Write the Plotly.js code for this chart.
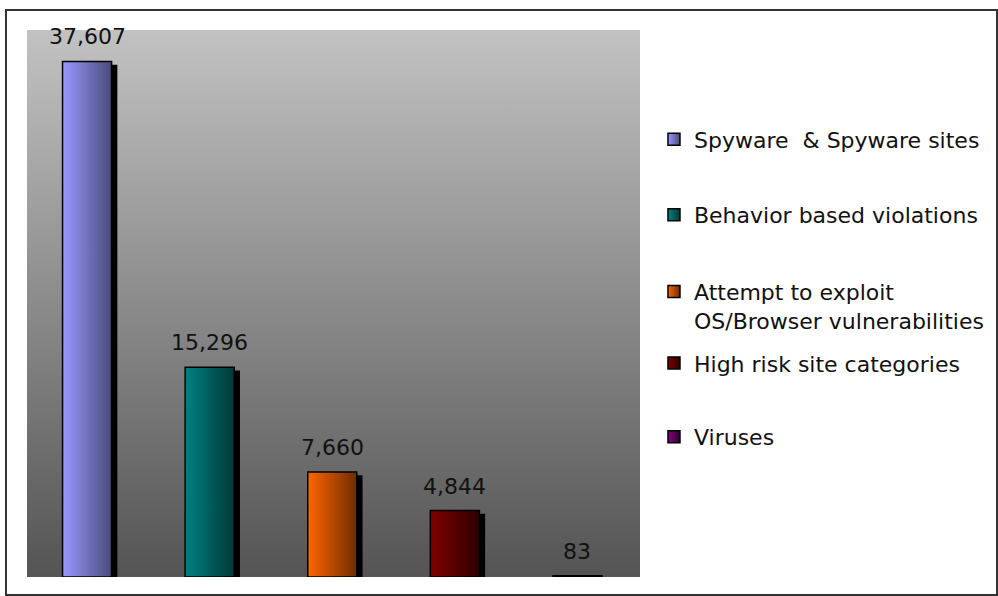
<!DOCTYPE html>
<html>
<head>
<meta charset="utf-8">
<script src="https://cdn.plot.ly/plotly-3.0.1.min.js"></script>
<style>
  html, body { margin: 0; padding: 0; background: #fff; }
  #chart { width: 998px; height: 596px; }
</style>
</head>
<body>
<svg width="0" height="0" style="position:absolute">
  <defs id="customDefs"></defs>
</svg>
<div id="chart"></div>
<script>
// ---- data ----
const categories = [
  'Spyware  & Spyware sites',
  'Behavior based violations',
  'Attempt to exploit<br>OS/Browser vulnerabilities',
  'High risk site categories',
  'Viruses'
];
const values = [37607, 15296, 7660, 4844, 83];
const colorsLight = ['#9999ff', '#008080', '#ff6600', '#800000', '#800080'];
const colorsDark  = ['#4a4a7c', '#003a3a', '#6e2c00', '#2e0000', '#2e002e'];
const legendIds = ['legend', 'legend2', 'legend3', 'legend4', 'legend5'];
const legendY = [0.80, 0.662, 0.495, 0.391, 0.256];

const FONT = 'DejaVu Sans, Verdana, sans-serif';

const traces = categories.map((c, i) => ({
  type: 'bar',
  x: [c],
  y: [values[i]],
  name: c,
  width: 0.4,
  legend: legendIds[i],
  marker: { color: colorsLight[i], line: { color: '#000', width: 1.5 } },
  hoverinfo: 'x+y'
}));

const annotations = categories.map((c, i) => ({
  x: c, y: values[i], xref: 'x', yref: 'y',
  text: values[i].toLocaleString('en-US'),
  showarrow: false, yanchor: 'bottom', yshift: 10,
  font: { family: FONT, size: 22, color: '#111' }
}));

const layout = {
  width: 998, height: 596,
  margin: { l: 27, r: 358, t: 30, b: 19, autoexpand: false },
  paper_bgcolor: '#ffffff',
  plot_bgcolor: '#8a8a8a',
  barmode: 'overlay',
  showlegend: true,
  xaxis: {
    type: 'category', categoryarray: categories, categoryorder: 'array',
    range: [-0.49, 4.51],
    showticklabels: false, showgrid: false, zeroline: false, showline: false, ticks: ''
  },
  yaxis: {
    range: [0, 39900],
    showticklabels: false, showgrid: false, zeroline: false, showline: false, ticks: ''
  },
  annotations: annotations,
  shapes: [{
    type: 'rect', xref: 'paper', yref: 'paper',
    x0: -0.0343, x1: 1.5824, y0: -0.0329, y1: 1.0366,
    line: { color: '#333', width: 2 }, fillcolor: 'rgba(0,0,0,0)', layer: 'below'
  }]
};
legendIds.forEach((id, i) => {
  layout[id] = {
    x: 1.0228, y: legendY[i], xanchor: 'left', yanchor: 'middle',
    bgcolor: 'rgba(0,0,0,0)', borderwidth: 0,
    valign: 'top',
    font: { family: FONT, size: 22, color: '#111' }
  };
});

function buildDefs() {
  const defs = document.getElementById('customDefs');
  let html = '';
  html += '<linearGradient id="bgGrad" x1="0" y1="0" x2="0" y2="1">' +
          '<stop offset="0" stop-color="#c2c2c2"/><stop offset="1" stop-color="#545454"/></linearGradient>';
  colorsLight.forEach((c, i) => {
    html += '<linearGradient id="barGrad' + i + '" x1="0" y1="0" x2="1" y2="0">' +
            '<stop offset="0" stop-color="' + c + '"/><stop offset="1" stop-color="' + colorsDark[i] + '"/></linearGradient>';
  });
  html += '<filter id="barShadow" x="-0.2" y="-0.2" width="1.5" height="1.5">' +
          '<feDropShadow dx="5" dy="4" stdDeviation="0" flood-color="#000" flood-opacity="1"/></filter>';
  defs.innerHTML = html;
}

function decorate(gd) {
  const bg = gd.querySelector('.bglayer rect.bg');
  if (bg) bg.style.fill = 'url(#bgGrad)';
  gd.querySelectorAll('.barlayer .trace').forEach((tr) => {
    let idx = -1;
    try { idx = tr.__data__[0].trace.index; } catch (e) {}
    if (idx < 0) return;
    tr.querySelectorAll('path').forEach(p => {
      p.style.fill = 'url(#barGrad' + idx + ')';
      p.setAttribute('filter', 'url(#barShadow)');
    });
  });
  gd.querySelectorAll('g.traces').forEach((item) => {
    let idx = -1;
    try { idx = item.__data__[0].trace.index; } catch (e) {}
    if (idx < 0) return;
    item.querySelectorAll('.legendpoints path').forEach(p => {
      p.style.fill = 'url(#barGrad' + idx + ')';
    });
  });
}

buildDefs();
const gd = document.getElementById('chart');
Plotly.newPlot(gd, traces, layout, { displayModeBar: false, staticPlot: true }).then(() => {
  decorate(gd);
  gd.on('plotly_afterplot', () => decorate(gd));
});
</script>
</body>
</html>
